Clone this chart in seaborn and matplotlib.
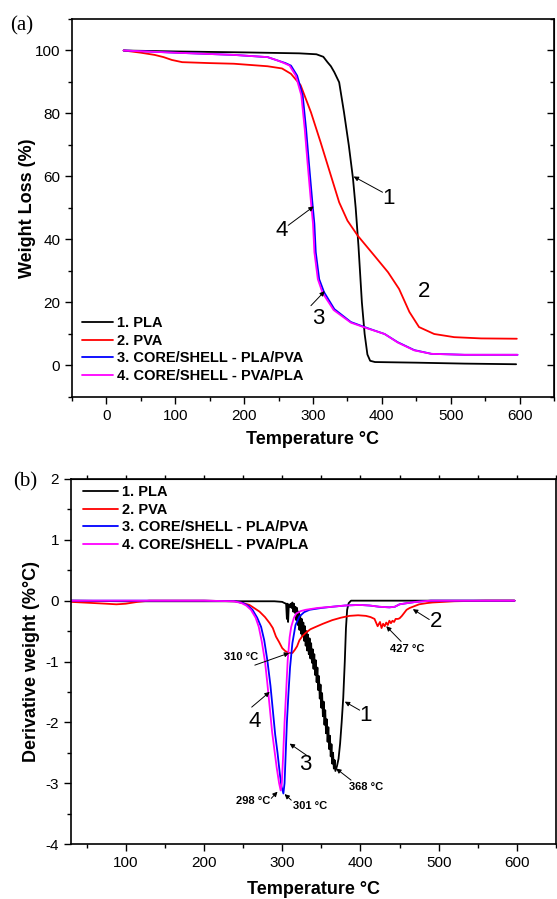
import matplotlib
matplotlib.use("Agg")
import numpy as np
import pandas as pd
import seaborn as sns
import matplotlib.pyplot as plt
from matplotlib.ticker import MultipleLocator

# ---------------- data ----------------
labels = ["1. PLA", "2. PVA", "3. CORE/SHELL - PLA/PVA", "4. CORE/SHELL - PVA/PLA"]
colors = ["#000000", "#ff0000", "#0000ff", "#ff00ff"]

# (a) TGA weight (%)
pla_T = [25, 100, 200, 280, 305, 315, 321, 326, 331, 338, 345, 352, 358, 362, 366, 371, 375, 379, 383, 390, 450, 520, 595]
pla_W = [100, 99.7, 99.4, 99.1, 98.8, 98.0, 96.3, 95.0, 93.1, 89.9, 80.4, 69.9, 59.5, 50, 38, 20, 10, 3.5, 1.5, 1.1, 0.9, 0.6, 0.4]

pva_T = [25, 50, 70, 83, 95, 110, 150, 185, 234, 255, 268, 282, 297, 311, 323, 338, 350, 365, 389, 409, 425, 440, 454, 476, 505, 544, 596]
pva_W = [100, 99.3, 98.6, 97.9, 97.0, 96.3, 96.0, 95.8, 95.0, 94.3, 92.6, 89.0, 80.4, 70.9, 62.4, 51.8, 46.0, 41.2, 34.9, 29.6, 24.3, 17.0, 12.2, 10.0, 9.0, 8.6, 8.5]

cs1_T = [25, 100, 185, 234, 249, 260, 268, 277, 285, 290, 294, 299, 302, 304, 309, 316, 331, 355, 380, 404, 423, 447, 472, 520, 597]
cs1_W = [100, 99.3, 98.6, 97.9, 96.8, 96.0, 95.2, 92.0, 85.8, 75.0, 64.5, 52.0, 45.0, 36.0, 27.4, 23.3, 17.9, 13.8, 11.8, 10.0, 7.4, 4.9, 3.7, 3.4, 3.4]

cs2_T = [25, 100, 185, 234, 249, 258, 266, 275, 283, 288, 292, 297, 300, 302, 307, 314, 330, 355, 380, 404, 423, 447, 472, 520, 597]
cs2_W = [100, 99.3, 98.6, 97.9, 96.8, 96.0, 95.2, 92.0, 85.8, 75.0, 64.5, 52.0, 45.0, 36.0, 27.4, 23.0, 17.6, 13.6, 11.7, 10.0, 7.3, 4.8, 3.7, 3.4, 3.4]

# (b) DTG derivative weight (%/°C)
dpla_T = [30, 100, 200, 290, 300, 303, 305, 306, 306.5, 307.5, 308.5, 310, 311, 312, 313, 314, 315, 316, 317,
          318, 319, 320, 321, 322, 323, 324, 325, 326, 327, 328, 329, 330, 331, 332, 333, 334, 335, 336, 337, 338, 339,
          340, 341, 342, 343, 344, 345, 346, 347, 348, 349, 350, 351, 352, 353, 354, 355, 356, 357, 358, 359,
          360, 361, 362, 363, 364, 365, 366, 367, 368, 370, 372, 374, 376, 378, 380, 381.5, 383, 385, 388, 450, 520, 597]
dpla_V = [0, -0.01, -0.01, -0.01, -0.02, -0.04, -0.05, -0.30, -0.05, -0.35, -0.06, -0.10, -0.05, -0.12, -0.03, -0.18, -0.05, -0.20, -0.10,
          -0.32, -0.12, -0.40, -0.18, -0.48, -0.24, -0.54, -0.30, -0.58, -0.36, -0.66, -0.42, -0.74, -0.50, -0.82, -0.56, -0.88, -0.62, -0.95, -0.70, -1.02, -0.80,
          -1.12, -0.88, -1.22, -0.98, -1.34, -1.10, -1.47, -1.24, -1.61, -1.38, -1.76, -1.52, -1.90, -1.66, -2.04, -1.80, -2.18, -1.95, -2.32, -2.08,
          -2.44, -2.22, -2.56, -2.36, -2.68, -2.50, -2.76, -2.62, -2.80, -2.72, -2.60, -2.35, -2.00, -1.60, -1.00, -0.45, -0.15, -0.04, 0, 0, 0, 0]

dpva_T = [30, 45, 60, 75, 88, 100, 115, 130, 200, 240, 250, 258, 264, 271, 278, 284, 288, 292, 296, 300, 304, 309, 313, 316, 319, 322,
          326, 330, 336, 343, 352, 364, 375, 386, 397, 407, 413, 418, 422, 425, 427, 429, 431, 433, 435, 437, 439, 441, 443, 445, 448,
          450, 453, 456, 459, 463, 467, 475, 485, 492, 520, 560, 597]
dpva_V = [-0.02, -0.03, -0.04, -0.05, -0.06, -0.05, -0.02, 0, 0, -0.01, -0.04, -0.07, -0.12, -0.18, -0.27, -0.37, -0.45, -0.59, -0.68, -0.78, -0.83, -0.86, -0.86, -0.81, -0.75, -0.65,
          -0.58, -0.53, -0.47, -0.43, -0.38, -0.32, -0.28, -0.25, -0.24, -0.25, -0.27, -0.30, -0.42, -0.35, -0.45, -0.38, -0.42, -0.36, -0.40, -0.33, -0.37, -0.33, -0.35, -0.30, -0.30,
          -0.29, -0.25, -0.20, -0.15, -0.12, -0.10, -0.06, -0.04, -0.03, -0.01, 0, 0]

dcs1_T = [30, 100, 200, 240, 250, 256, 262, 268, 273, 277, 281, 285, 288, 291, 294, 297, 299, 301.5, 303, 304.5,
          306, 308, 310, 313, 317, 322, 328, 335, 350, 364, 380, 399, 412, 424, 437, 444, 450, 460, 471, 490, 597]
dcs1_V = [0, 0, 0, -0.01, -0.04, -0.08, -0.15, -0.28, -0.43, -0.65, -0.98, -1.40, -1.80, -2.20, -2.50, -2.85, -3.05, -3.17, -3.00, -2.50,
          -2.00, -1.52, -1.10, -0.70, -0.40, -0.26, -0.19, -0.15, -0.12, -0.10, -0.08, -0.07, -0.08, -0.10, -0.11, -0.10, -0.06, -0.04, -0.02, 0, 0]

dcs2_T = [30, 100, 200, 238, 248, 254, 260, 266, 270, 274, 278, 281, 284, 287, 290, 293, 296, 298, 299.5, 301,
          303, 305, 307, 309.5, 311.5, 315, 318, 324, 330, 345, 364, 380, 399, 412, 424, 437, 444, 450, 460, 471, 490, 597]
dcs2_V = [0, 0, 0, -0.01, -0.04, -0.08, -0.15, -0.28, -0.43, -0.68, -1.00, -1.36, -1.75, -2.15, -2.45, -2.75, -3.00, -3.12, -3.00, -2.60,
          -2.00, -1.50, -0.98, -0.60, -0.43, -0.28, -0.21, -0.17, -0.15, -0.12, -0.10, -0.08, -0.07, -0.08, -0.10, -0.11, -0.10, -0.06, -0.04, -0.02, 0, 0]

# ---------------- style ----------------
sns.set_style("ticks")
plt.rcParams['font.family'] = ['Liberation Sans', 'DejaVu Sans']
plt.rcParams['axes.unicode_minus'] = False
plt.rcParams['axes.edgecolor'] = 'black'
plt.rcParams['xtick.color'] = 'black'
plt.rcParams['ytick.color'] = 'black'
plt.rcParams['text.color'] = 'black'
plt.rcParams['axes.labelcolor'] = 'black'

W, H = 557, 899
fig = plt.figure(figsize=(W / 100, H / 100), dpi=100)
fig.patch.set_facecolor('white')

def px_axes(l, t, r, b):
    return fig.add_axes([l / W, 1 - b / H, (r - l) / W, (b - t) / H])

ax1 = px_axes(72, 19, 554, 397)
ax2 = px_axes(71, 479, 556, 844)

palette = dict(zip(labels, colors))

tga = pd.concat([
    pd.DataFrame({"T": pla_T, "W": pla_W, "sample": labels[0]}),
    pd.DataFrame({"T": pva_T, "W": pva_W, "sample": labels[1]}),
    pd.DataFrame({"T": cs1_T, "W": cs1_W, "sample": labels[2]}),
    pd.DataFrame({"T": cs2_T, "W": cs2_W, "sample": labels[3]}),
], ignore_index=True)

dtg = pd.concat([
    pd.DataFrame({"T": dpla_T, "V": dpla_V, "sample": labels[0]}),
    pd.DataFrame({"T": dpva_T, "V": dpva_V, "sample": labels[1]}),
    pd.DataFrame({"T": dcs1_T, "V": dcs1_V, "sample": labels[2]}),
    pd.DataFrame({"T": dcs2_T, "V": dcs2_V, "sample": labels[3]}),
], ignore_index=True)

sns.lineplot(data=tga, x="T", y="W", hue="sample", hue_order=labels, palette=palette,
             estimator=None, sort=False, lw=1.3, ax=ax1, legend=False)
sns.lineplot(data=dtg, x="T", y="V", hue="sample", hue_order=labels, palette=palette,
             estimator=None, sort=False, lw=1.3, ax=ax2, legend=False)

tick_fs = 11
lab_fs = 13

# ---- axes (a)
ax1.set_xlim(-50, 650)
ax1.set_ylim(-10, 110)
ax1.xaxis.set_major_locator(MultipleLocator(100))
ax1.xaxis.set_minor_locator(MultipleLocator(50))
ax1.yaxis.set_major_locator(MultipleLocator(20))
ax1.yaxis.set_minor_locator(MultipleLocator(10))
ax1.tick_params(which='major', direction='out', length=5, width=1, labelsize=tick_fs)
ax1.tick_params(which='minor', direction='out', length=3, width=1)
secy = ax1.secondary_yaxis('right')
secy.yaxis.set_major_locator(MultipleLocator(20))
secy.yaxis.set_minor_locator(MultipleLocator(10))
secy.tick_params(which='major', direction='in', length=5, width=1, labelright=False)
secy.tick_params(which='minor', direction='in', length=3, width=1)
ax1.set_xlabel("Temperature °C", fontsize=lab_fs, fontweight='bold', labelpad=6)
ax1.set_ylabel("Weight Loss (%)", fontsize=lab_fs, fontweight='bold', labelpad=-1)

# ---- axes (b)
ax2.set_xlim(30, 650)
ax2.set_ylim(-4, 2)
ax2.xaxis.set_major_locator(MultipleLocator(100))
ax2.xaxis.set_minor_locator(MultipleLocator(50))
ax2.yaxis.set_major_locator(MultipleLocator(1))
ax2.yaxis.set_minor_locator(MultipleLocator(0.5))
ax2.tick_params(which='major', direction='out', length=5, width=1, labelsize=tick_fs)
ax2.tick_params(which='minor', direction='out', length=3, width=1)
secx = ax2.secondary_xaxis('top')
secx.xaxis.set_major_locator(MultipleLocator(50))
secx.tick_params(which='major', direction='out', length=3, width=1, labeltop=False)
ax2.set_xlabel("Temperature °C", fontsize=lab_fs, fontweight='bold', labelpad=8)
ax2.set_ylabel("Derivative weight (%°C)", fontsize=lab_fs, fontweight='bold', labelpad=4)

for ax in (ax1, ax2):
    for s in ax.spines.values():
        s.set_linewidth(1.2)
        s.set_color('black')
    ax.set_facecolor('white')

# legends
leg_kw = dict(frameon=False, prop={'weight': 'bold', 'size': 10.5}, borderpad=0, borderaxespad=0,
              handletextpad=0.3, labelspacing=0.25, loc='upper left', bbox_transform=fig.transFigure)
ax1.legend(ax1.get_lines()[:4], labels, handlelength=2.1,
           bbox_to_anchor=(82 / W, 1 - 316 / H), **leg_kw)
ax2.legend(ax2.get_lines()[:4], labels, handlelength=2.4,
           bbox_to_anchor=(83 / W, 1 - 485 / H), **leg_kw)

arrow = dict(arrowstyle='-|>', color='black', lw=0.7, mutation_scale=7, shrinkA=0, shrinkB=0)

def note(ax, txt, tpos, tail, tip, size=16, weight='normal'):
    ax.text(tpos[0], tpos[1], txt, fontsize=size, fontweight=weight, ha='center', va='center')
    if tail is not None:
        ax.annotate('', xy=tip, xytext=tail, arrowprops=arrow)

# (a) annotations
note(ax1, "1", (410, 53), (401, 55), (359, 60))
note(ax1, "2", (461, 23.6), None, None)
note(ax1, "4", (254, 43), (264, 44.5), (301, 50.5))
note(ax1, "3", (307, 14.8), (297, 19), (317, 23.6))

# (b) annotations
note(ax2, "1", (406, -1.88), (399, -1.80), (380, -1.66))
note(ax2, "2", (497, -0.35), (488, -0.31), (467, -0.14))
note(ax2, "3", (329, -2.70), (331, -2.54), (309.5, -2.35))
note(ax2, "4", (265, -1.99), (261, -1.75), (284, -1.50))
tsz = 8
note(ax2, "310 °C", (248, -0.92), (265, -1.06), (309, -0.86), size=tsz, weight='bold')
note(ax2, "427 °C", (460, -0.80), (452, -0.67), (433, -0.42), size=tsz, weight='bold')
note(ax2, "368 °C", (407, -3.07), (388, -2.95), (369, -2.76), size=tsz, weight='bold')
note(ax2, "298 °C", (263, -3.29), (286, -3.25), (294, -3.14), size=tsz, weight='bold')
note(ax2, "301 °C", (336, -3.37), (311.6, -3.28), (303, -3.18), size=tsz, weight='bold')

# panel letters
fig.text(22 / W, 1 - 26 / H, "(a)", fontsize=15, family=['Liberation Serif', 'DejaVu Serif'], ha='center', va='center')
fig.text(25 / W, 1 - 482 / H, "(b)", fontsize=15, family=['Liberation Serif', 'DejaVu Serif'], ha='center', va='center')

fig.savefig("out.png", dpi=100, facecolor='white')
